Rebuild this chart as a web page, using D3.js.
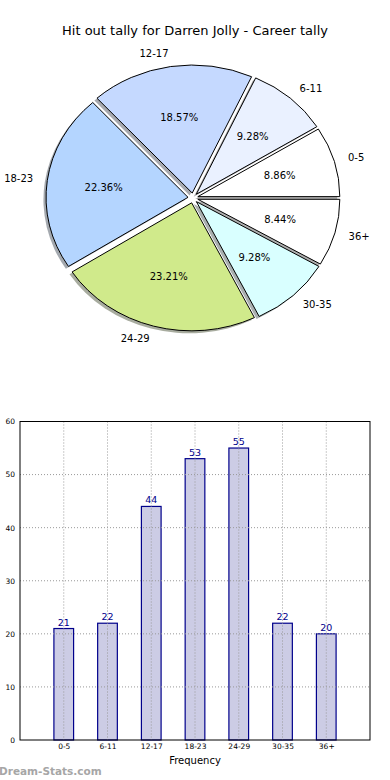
<!DOCTYPE html>
<html><head><meta charset="utf-8">
<script src="https://cdn.jsdelivr.net/npm/d3@7"></script>
<style>html,body{margin:0;padding:0;background:#fff;}svg{display:block;font-family:"DejaVu Sans",sans-serif;}</style>
</head><body>
<script>
const title = "Hit out tally for Darren Jolly - Career tally";
const categories = ["0-5","6-11","12-17","18-23","24-29","30-35","36+"];
const values = [21,22,44,53,55,22,20];
const pieColors = ["#ffffff","#eaf1ff","#c5d9ff","#b4d5ff","#d0ea8b","#d9ffff","#ffffff"];
const yTicks = [0,10,20,30,40,50,60];
const xLabel = "Frequency";
const watermark = "Dream-Stats.com";

const W = 390, H = 780;
const svg = d3.select("body").append("svg").attr("width", W).attr("height", H);

// Title
svg.append("text").attr("x", 195).attr("y", 35).attr("text-anchor", "middle")
  .attr("font-size", 13).attr("fill", "#000").text(title);

// ---------- Pie ----------
const cx = 193, cy = 198, rx = 142, ry = 128, explode = 5;
const total = d3.sum(values);
const pieGen = d3.pie().sort(null).value(d => d)
  .startAngle(Math.PI / 2).endAngle(Math.PI / 2 - 2 * Math.PI);
const arcs = pieGen(values);
const arc = d3.arc().innerRadius(0).outerRadius(1);
const pieG = svg.append("g");

function midMath(a) {
  const m = (a.startAngle + a.endAngle) / 2;
  return Math.PI / 2 - m;
}
const offs = arcs.map(a => {
  const t = midMath(a);
  return [explode * Math.cos(t), -explode * Math.sin(t)];
});

// shadows
arcs.forEach((a, i) => {
  const c = d3.rgb(pieColors[i]);
  const sc = d3.rgb(c.r * 0.3, c.g * 0.3, c.b * 0.3);
  pieG.append("path")
    .attr("d", arc(a))
    .attr("transform", `translate(${cx + offs[i][0] - 2.6},${cy + offs[i][1] + 2.4}) scale(${rx},${ry})`)
    .attr("fill", sc.toString()).attr("fill-opacity", 0.45)
    .attr("stroke", "none");
});
// wedges
arcs.forEach((a, i) => {
  pieG.append("path")
    .attr("d", arc(a))
    .attr("transform", `translate(${cx + offs[i][0]},${cy + offs[i][1]}) scale(${rx},${ry})`)
    .attr("fill", pieColors[i]).attr("stroke", "#000")
    .attr("stroke-width", 1).attr("vector-effect", "non-scaling-stroke")
    .attr("stroke-linejoin", "round");
});
// labels
arcs.forEach((a, i) => {
  const t = midMath(a);
  const lx = cx + offs[i][0] + 1.1 * rx * Math.cos(t);
  const ly = cy + offs[i][1] - 1.1 * ry * Math.sin(t);
  pieG.append("text").attr("x", lx).attr("y", ly)
    .attr("text-anchor", Math.cos(t) < 0 ? "end" : "start")
    .attr("dominant-baseline", "central").attr("font-size", 10).attr("fill", "#000")
    .text(categories[i]);
  const px = cx + offs[i][0] + 0.6 * rx * Math.cos(t);
  const py = cy + offs[i][1] - 0.6 * ry * Math.sin(t);
  pieG.append("text").attr("x", px).attr("y", py)
    .attr("text-anchor", "middle").attr("dominant-baseline", "central")
    .attr("font-size", 10).attr("fill", "#000")
    .text((values[i] / total * 100).toFixed(2) + "%");
});

// ---------- Bar chart ----------
const L = 20, R = 370, T = 421.5, B = 740;
const x = d3.scaleLinear().domain([-1, categories.length]).range([L, R]);
const y = d3.scaleLinear().domain([0, 60]).range([B, T]);
const barW = 0.45;
const bg = svg.append("g");

bg.selectAll("rect.bar").data(values).enter().append("rect")
  .attr("x", (d, i) => x(i - barW / 2)).attr("width", x(barW) - x(0))
  .attr("y", d => y(d)).attr("height", d => B - y(d))
  .attr("fill", "#ccccE5").attr("stroke", "#00008b").attr("stroke-width", 1.2);

bg.selectAll("line.hg").data(yTicks.slice(1, -1)).enter().append("line")
  .attr("x1", L).attr("x2", R).attr("y1", d => y(d)).attr("y2", d => y(d))
  .attr("stroke", "#999").attr("stroke-width", 1).attr("stroke-dasharray", "1,2");
bg.selectAll("line.vg").data(categories).enter().append("line")
  .attr("x1", (d, i) => x(i)).attr("x2", (d, i) => x(i)).attr("y1", T).attr("y2", B)
  .attr("stroke", "#999").attr("stroke-width", 1).attr("stroke-dasharray", "1,2");

bg.selectAll("text.val").data(values).enter().append("text")
  .attr("x", (d, i) => x(i)).attr("y", d => y(d) - 3)
  .attr("text-anchor", "middle").attr("font-size", 9.5).attr("fill", "#00008b")
  .text(d => d);

bg.append("rect").attr("x", L).attr("y", T).attr("width", R - L).attr("height", B - T)
  .attr("fill", "none").attr("stroke", "#000").attr("stroke-width", 1);

const yAxis = d3.axisLeft(y).tickValues(yTicks).tickSize(0).tickPadding(5);
const ya = bg.append("g").attr("transform", `translate(${L},0)`).call(yAxis);
ya.select(".domain").remove();
ya.selectAll("text").attr("font-size", 7.5).attr("font-family", "DejaVu Sans").attr("fill", "#000");

const xAxis = d3.axisBottom(x).tickValues(d3.range(categories.length))
  .tickFormat(i => categories[i]).tickSize(0).tickPadding(4);
const xa = bg.append("g").attr("transform", `translate(0,${B})`).call(xAxis);
xa.select(".domain").remove();
xa.selectAll("text").attr("font-size", 7.5).attr("font-family", "DejaVu Sans").attr("fill", "#000");

bg.append("text").attr("x", (L + R) / 2).attr("y", 764).attr("text-anchor", "middle")
  .attr("font-size", 10).attr("fill", "#000").text(xLabel);

svg.append("text").attr("x", -1).attr("y", 775).attr("font-size", 10.5).attr("font-weight", "bold")
  .attr("fill", "#a6a6a6").text(watermark);
</script>
</body></html>
